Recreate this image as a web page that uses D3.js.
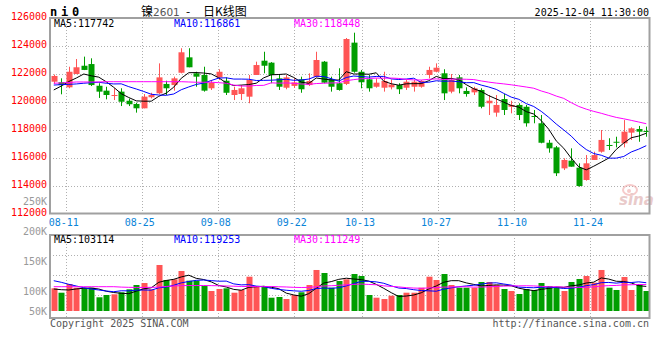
<!DOCTYPE html>
<html lang="zh-CN">
<head>
<meta charset="UTF-8">
<title>镍2601 - 日K线图</title>
<script src="https://d3js.org/d3.v7.min.js"></script>
<style>
  body { margin: 0; background: #fff; }
  svg { display: block; }
  text { font-family: "DejaVu Sans Mono", monospace; font-size: 10px; }
  .grid { stroke: #b0b0b0; stroke-width: 1; stroke-dasharray: 1,2; }
  .frame { fill: none; stroke: #a0a0a0; stroke-width: 2; }
  .ma { fill: none; stroke-width: 1; }
</style>
</head>
<body>
<svg width="660" height="360"></svg>
<script>
// trading days shown (MM-DD)
var dates = ["08-07","08-08","08-11","08-12","08-13","08-14","08-15","08-18","08-19","08-20",
  "08-21","08-22","08-25","08-26","08-27","08-28","08-29","09-01","09-02","09-03",
  "09-04","09-05","09-08","09-09","09-10","09-11","09-12","09-15","09-16","09-17",
  "09-18","09-19","09-22","09-23","09-24","09-25","09-26","09-29","09-30","10-09",
  "10-10","10-13","10-14","10-15","10-16","10-17","10-20","10-21","10-22","10-23",
  "10-24","10-27","10-28","10-29","10-30","10-31","11-03","11-04","11-05","11-06",
  "11-07","11-10","11-11","11-12","11-13","11-14","11-17","11-18","11-19","11-20",
  "11-21","11-24","11-25","11-26","11-27","11-28","12-01","12-02","12-03","12-04"];

var open = [121450,121410,121050,122000,122590,122710,121160,120810,120430,120740,
  120090,119860,119550,120340,120620,121290,121210,122090,123190,122050,
  121930,120980,121760,121520,120500,120570,120380,121930,122950,122810,
  121690,121020,121150,121620,121210,121810,122880,121620,121340,121290,
  124240,122160,121620,121090,121020,121050,121210,121020,121090,121090,
  121930,122160,122050,120740,121760,120790,120690,120860,119910,119240,
  120210,119660,119790,119660,119000,118480,117090,116760,115260,115810,
  115310,114430,115860,116450,116930,117160,117050,117810,118070,117930];
var high = [121960,121690,122520,123070,123240,123120,121340,121090,120980,120980,
  120240,119950,120570,120660,122760,121520,121810,123840,123840,122160,
  122520,121570,122340,121760,121090,121210,121930,122880,123590,122850,
  122000,121930,121700,121810,122050,123590,122930,121810,122410,124570,
  124950,122290,121930,121690,122160,121600,121340,121570,121570,121570,
  122520,122760,122340,122000,121930,121050,121090,120980,120500,120500,
  120570,120090,119910,119790,119430,119070,117290,116860,115980,116690,
  115620,116210,116450,118000,117410,117520,118710,118190,118290,118240];
var low = [121290,120550,120980,121990,122280,121140,120290,120190,120140,119710,
  119710,119240,119550,120260,120570,120500,120810,122050,122480,121090,
  120740,120860,121570,120500,120140,120140,119910,121930,122050,121340,
  120860,120910,121000,120660,121140,121760,121340,120740,120810,121210,
  122090,120980,120740,121020,120740,120900,120570,120860,120740,121020,
  121690,122120,120140,120620,120620,120380,120500,119550,119070,118950,
  119070,119190,118710,118240,118480,117050,116380,114710,115140,115380,
  113950,114380,115860,116380,116570,116760,116760,117290,117160,117520];
var close = [121860,121210,122160,122480,122290,121210,120740,120500,120500,120020,
  119840,119550,120380,120500,121760,120980,121690,123550,122480,121810,
  120810,121380,122160,120660,120860,120980,121570,122640,122590,121930,
  121090,121760,121400,120910,121500,123000,121380,121090,120860,124500,
  122160,121410,120980,121380,121500,121250,120910,121450,121450,121500,
  122290,122450,120620,121570,120980,120570,120980,119660,120090,119790,
  119430,119790,119070,118480,118930,117090,116690,114910,115860,115380,
  114000,115620,116210,117290,116860,117090,117880,118120,117880,117860];
var volume = [94600,75200,113700,97300,94600,97300,54900,65000,68100,77000,
  90200,109300,118100,90200,197800,131400,134500,171200,128300,128300,
  104900,82700,91600,94600,75200,87200,146000,104900,104900,53100,
  56200,47300,65000,77000,109300,175700,162400,97300,126900,134500,
  157900,149100,65000,53100,47300,61900,65000,75200,75200,97300,
  146000,131400,157900,109300,97300,97300,97300,122600,122600,109300,
  91600,82700,69500,91600,87200,118100,104900,100400,82700,122600,
  135900,149100,119500,175700,97300,87200,144700,87200,113700,82700];

// moving-average values at the left edge (their earlier days are off the chart)
var ma5Lead = [120860,121140,121460,121710];
var ma10Lead = [121210,121240,121260,121290,121340,121380,121410,121340,121290];
var ma30Lead = [121340,121360,121390,121430,121430,121430,121430,121450,121450,121450,
  121450,121450,121450,121450,121450,121450,121450,121450,121430,121410,
  121410,121410,121380,121340,121210,121140,121140,121180,121190];
var vma5Lead = [91600,88500,87200,91600];
var vma10Lead = [128300,121200,112400,104900,97300,91600,87200,82700,79600];
var vma30Lead = [101800,101800,101800,101800,101800,101800,101800,101800,101800,100000,
  99000,98500,98500,99000,100000,103000,105000,106500,107000,107000,
  107000,106500,106000,105000,104000,103000,102500,102000,102000];

// header values
var priceMaHead = [117742, 116861, 118448];
var volMaHead = [103114, 119253, 111249];
var maNames = ["MA5", "MA10", "MA30"];
var maColors = ["#000000", "#0000ff", "#ff00ff"];

// tick labels
var priceTicks = [126000,124000,122000,120000,118000,116000,114000,112000];
var volTicks = [250000,200000,150000,100000,50000];
var volTickLabels = ["250K","200K","150K","100K","50K"];
var dateTicks = ["08-11","08-25","09-08","09-22","10-13","10-27","11-10","11-24"];

var UP = "#ff5555", DOWN = "#009e00";

var svg = d3.select("svg");
var n = close.length;

var x = d3.scaleBand().domain(d3.range(n)).range([50, 650]).paddingInner(0.2).paddingOuter(0.1);
var gx = d3.scaleLinear().domain([0, n - 1]).range([50.5, 650.9]);
var y = d3.scaleLinear().domain([112000, 126000]).range([214, 18]);
var vy = d3.scaleLinear().domain([0, 100000]).range([309.7, 287.1]);
var vLabelY = d3.scaleLinear().domain([100000, 250000]).range([291, 201]);

function cx(i) { return x(i) + x.bandwidth() / 2; }
function movingAvg(arr, k, lead) {
  return arr.map(function (v, i) {
    if (i < k - 1) return lead[i];
    return d3.mean(arr.slice(i - k + 1, i + 1));
  });
}

var tickIdx = dateTicks.map(function (d) { return dates.indexOf(d); });

// ---------- price panel ----------
var P = { top: 18, bottom: 213.5, left: 50, right: 649.5 };
svg.append("g").selectAll("line").data(priceTicks.slice(1, -1)).enter().append("line")
  .attr("class", "grid")
  .attr("x1", P.left).attr("x2", P.right)
  .attr("y1", function (d) { return Math.round(y(d)) + 0.5; })
  .attr("y2", function (d) { return Math.round(y(d)) + 0.5; });
svg.append("g").selectAll("line").data(tickIdx).enter().append("line")
  .attr("class", "grid")
  .attr("x1", function (i) { return Math.round(gx(i)) + 0.5; })
  .attr("x2", function (i) { return Math.round(gx(i)) + 0.5; })
  .attr("y1", P.top).attr("y2", P.bottom);

// watermark
var wm = svg.append("g").attr("opacity", 0.55);
wm.append("ellipse").attr("cx", 630).attr("cy", 190).attr("rx", 7).attr("ry", 5)
  .attr("fill", "none").attr("stroke", "#f0a0a0").attr("stroke-width", 2);
wm.append("circle").attr("cx", 629).attr("cy", 191).attr("r", 2).attr("fill", "#f0a0a0");
wm.append("text").attr("x", 619).attr("y", 205)
  .style("font-family", "DejaVu Sans").style("font-size", "15px")
  .style("font-weight", "bold").style("font-style", "italic")
  .attr("fill", "#d8a0a0").text("sina");

var candles = svg.append("g").selectAll("g").data(d3.range(n)).enter().append("g");
candles.append("line")
  .attr("x1", function (i) { return Math.round(cx(i)) + 0.5; })
  .attr("x2", function (i) { return Math.round(cx(i)) + 0.5; })
  .attr("y1", function (i) { return y(high[i]); })
  .attr("y2", function (i) { return y(low[i]); })
  .attr("stroke", function (i) { return close[i] >= open[i] ? UP : DOWN; })
  .attr("stroke-width", 1);
candles.append("rect")
  .attr("x", function (i) { return Math.round(cx(i)) - 2.5; })
  .attr("width", 6)
  .attr("y", function (i) { return y(Math.max(open[i], close[i])); })
  .attr("height", function (i) { return Math.max(1, Math.abs(y(open[i]) - y(close[i]))); })
  .attr("fill", function (i) { return close[i] >= open[i] ? UP : DOWN; });

var priceMA = [movingAvg(close, 5, ma5Lead), movingAvg(close, 10, ma10Lead), movingAvg(close, 30, ma30Lead)];
var pLine = d3.line().x(function (d, i) { return cx(i); }).y(function (d) { return y(d); });
svg.append("g").selectAll("path").data(priceMA).enter().append("path")
  .attr("class", "ma")
  .attr("stroke", function (d, k) { return maColors[k]; })
  .attr("d", pLine);

svg.append("rect").attr("class", "frame")
  .attr("x", P.left).attr("y", P.top)
  .attr("width", P.right - P.left).attr("height", P.bottom - P.top);

svg.append("g").selectAll("text").data(priceTicks).enter().append("text")
  .attr("x", 47).attr("y", function (d) { return y(d) + 2; })
  .attr("text-anchor", "end").attr("fill", "#ff0000")
  .text(function (d) { return d; });

svg.append("g").selectAll("text").data(maNames).enter().append("text")
  .attr("x", function (d, k) { return 54 + 120 * k; }).attr("y", 27)
  .attr("fill", function (d, k) { return maColors[k]; })
  .text(function (d, k) { return d + ":" + priceMaHead[k]; });

svg.append("g").selectAll("text").data(tickIdx).enter().append("text")
  .attr("x", function (i) { return gx(i) - 2; }).attr("y", 225.5)
  .attr("text-anchor", "middle").attr("fill", "#0a84d8")
  .text(function (i) { return dates[i]; });

// ---------- volume panel ----------
var V = { top: 235, bottom: 318, left: 50, right: 649.5 };
svg.append("g").selectAll("line").data([255.5, 275.5, 295.5]).enter().append("line")
  .attr("class", "grid")
  .attr("x1", V.left).attr("x2", V.right)
  .attr("y1", function (d) { return d; }).attr("y2", function (d) { return d; });
svg.append("g").selectAll("line").data(tickIdx).enter().append("line")
  .attr("class", "grid")
  .attr("x1", function (i) { return Math.round(gx(i)) + 0.5; })
  .attr("x2", function (i) { return Math.round(gx(i)) + 0.5; })
  .attr("y1", V.top).attr("y2", V.bottom);

svg.append("g").selectAll("rect").data(d3.range(n)).enter().append("rect")
  .attr("x", function (i) { return Math.round(cx(i)) - 2.5; })
  .attr("width", 6)
  .attr("y", function (i) { return vy(volume[i]); })
  .attr("height", function (i) { return 311 - vy(volume[i]); })
  .attr("fill", function (i) { return close[i] >= open[i] ? UP : DOWN; });

var volMA = [movingAvg(volume, 5, vma5Lead), movingAvg(volume, 10, vma10Lead), movingAvg(volume, 30, vma30Lead)];
var vLine = d3.line().x(function (d, i) { return cx(i); }).y(function (d) { return vy(d); });
svg.append("g").selectAll("path").data(volMA).enter().append("path")
  .attr("class", "ma")
  .attr("stroke", function (d, k) { return maColors[k]; })
  .attr("d", vLine);

svg.append("rect").attr("class", "frame")
  .attr("x", V.left).attr("y", V.top)
  .attr("width", V.right - V.left).attr("height", V.bottom - V.top);

svg.append("g").selectAll("text").data(volTicks).enter().append("text")
  .attr("x", 47).attr("y", function (d) { return Math.min(vLabelY(d), 311) + 3.5; })
  .attr("text-anchor", "end").attr("fill", "#999")
  .text(function (d, k) { return volTickLabels[k]; });

svg.append("g").selectAll("text").data(maNames).enter().append("text")
  .attr("x", function (d, k) { return 54 + 120 * k; }).attr("y", 242.5)
  .attr("fill", function (d, k) { return maColors[k]; })
  .text(function (d, k) { return d + ":" + volMaHead[k]; });

// ---------- titles ----------
svg.append("text").attr("x", 50).attr("y", 16)
  .style("font-size", "12px").style("font-weight", "bold")
  .style("letter-spacing", "3.8px").text("ni0");
var t = svg.append("text").attr("x", 141).attr("y", 15.5)
  .style("font-family", "'Noto Sans CJK SC', sans-serif").style("font-size", "12px");
t.append("tspan").text("镍");
t.append("tspan").attr("fill", "#555").style("font-family", "'DejaVu Sans', sans-serif")
  .style("font-size", "10.5px").text("2601");
t.append("tspan").attr("x", 186).text("-");
t.append("tspan").attr("x", 203).text("日K线图");

svg.append("text").attr("x", 649).attr("y", 15.5).attr("text-anchor", "end")
  .text("2025-12-04 11:30:00");
svg.append("text").attr("x", 50).attr("y", 326.5).attr("fill", "#555")
  .text("Copyright 2025 SINA.COM");
svg.append("text").attr("x", 649).attr("y", 326.5).attr("text-anchor", "end").attr("fill", "#555")
  .text("http://finance.sina.com.cn");
</script>
</body>
</html>
